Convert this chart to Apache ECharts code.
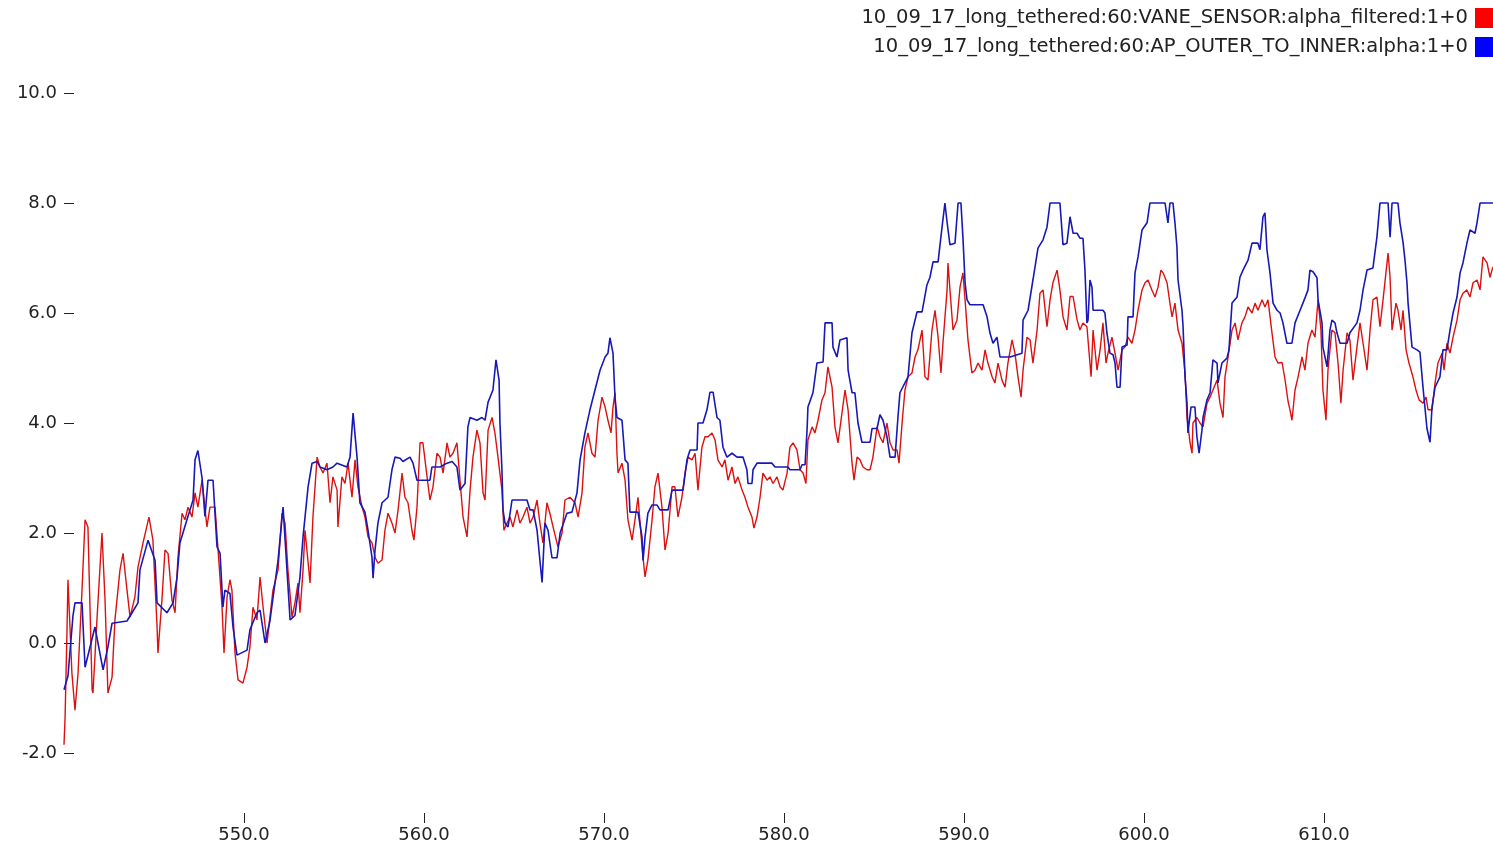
<!DOCTYPE html>
<html>
<head>
<meta charset="utf-8">
<script src="https://cdn.jsdelivr.net/npm/echarts@6/dist/echarts.min.js"></script>
<style>
html,body{margin:0;padding:0;background:#fff;}
#chart{width:1493px;height:847px;}
</style>
</head>
<body>
<div id="chart"></div>
<script>
const seriesNames = [
  "10_09_17_long_tethered:60:VANE_SENSOR:alpha_filtered:1+0",
  "10_09_17_long_tethered:60:AP_OUTER_TO_INNER:alpha:1+0"
];
const xTicks = [550, 560, 570, 580, 590, 600, 610];
const yTicks = [-2, 0, 2, 4, 6, 8, 10];

const redT = [540.00,540.06,540.17,540.22,540.44,540.61,540.78,541.00,541.17,541.33,541.56,541.61,541.83,542.11,542.28,542.44,542.67,542.83,543.11,543.28,543.50,543.67,543.94,544.11,544.39,544.72,544.94,545.17,545.22,545.44,545.61,545.78,546.00,546.17,546.33,546.56,546.72,546.89,547.11,547.28,547.44,547.67,547.94,548.11,548.39,548.56,548.78,548.89,549.06,549.22,549.33,549.50,549.67,549.94,550.17,550.33,550.50,550.72,550.89,551.06,551.28,551.44,551.61,551.89,552.11,552.28,552.44,552.67,552.83,553.00,553.11,553.28,553.39,553.67,553.83,554.06,554.22,554.39,554.61,554.78,554.94,555.17,555.22,555.44,555.61,555.78,556.00,556.17,556.33,556.56,556.72,556.89,557.11,557.28,557.44,557.67,557.83,558.00,558.22,558.39,558.56,558.78,558.94,559.11,559.33,559.44,559.61,559.78,559.94,560.17,560.33,560.50,560.72,560.89,561.06,561.28,561.44,561.61,561.83,562.00,562.17,562.39,562.56,562.72,562.94,563.11,563.28,563.39,563.56,563.78,563.94,564.11,564.33,564.44,564.61,564.78,564.94,565.17,565.33,565.50,565.72,565.89,566.06,566.28,566.44,566.61,566.83,567.00,567.17,567.44,567.67,567.83,568.11,568.39,568.56,568.78,568.94,569.11,569.33,569.50,569.67,569.89,570.06,570.22,570.39,570.50,570.61,570.72,570.78,571.00,571.17,571.33,571.56,571.72,571.89,572.11,572.28,572.44,572.67,572.83,573.00,573.22,573.39,573.56,573.78,573.94,574.11,574.33,574.50,574.67,574.89,575.06,575.22,575.44,575.61,575.78,576.00,576.17,576.33,576.56,576.72,576.89,577.11,577.28,577.44,577.67,577.83,578.00,578.22,578.33,578.50,578.67,578.83,579.06,579.22,579.39,579.61,579.78,579.94,580.17,580.33,580.50,580.72,580.89,581.06,581.22,581.33,581.56,581.72,581.89,582.11,582.28,582.44,582.67,582.83,583.00,583.22,583.39,583.56,583.78,583.89,584.06,584.22,584.39,584.61,584.78,584.94,585.17,585.33,585.50,585.72,585.89,586.06,586.28,586.39,586.56,586.72,586.89,587.11,587.28,587.44,587.67,587.83,588.00,588.22,588.39,588.56,588.72,588.83,589.06,589.11,589.22,589.39,589.61,589.78,589.94,590.06,590.22,590.44,590.61,590.78,591.00,591.17,591.33,591.56,591.72,591.89,592.11,592.28,592.44,592.67,592.83,593.00,593.17,593.28,593.50,593.67,593.83,594.06,594.22,594.39,594.61,594.78,594.94,595.17,595.33,595.50,595.72,595.89,596.06,596.28,596.44,596.61,596.83,596.89,597.06,597.17,597.39,597.56,597.72,597.89,598.00,598.22,598.39,598.56,598.78,598.94,599.11,599.33,599.50,599.67,599.89,600.06,600.22,600.44,600.61,600.78,600.94,601.06,601.28,601.44,601.56,601.72,601.89,602.11,602.28,602.39,602.56,602.67,602.72,602.94,603.11,603.28,603.50,603.67,603.83,604.06,604.22,604.39,604.50,604.67,604.89,605.06,605.22,605.44,605.61,605.78,606.00,606.17,606.33,606.56,606.72,606.89,607.11,607.28,607.44,607.67,607.83,608.00,608.11,608.22,608.39,608.56,608.78,608.94,609.11,609.33,609.50,609.67,609.83,609.94,610.11,610.22,610.44,610.61,610.78,610.94,611.06,611.28,611.44,611.61,611.83,612.00,612.17,612.39,612.56,612.72,612.94,613.11,613.28,613.44,613.56,613.67,613.78,614.00,614.11,614.28,614.39,614.56,614.72,614.94,615.11,615.28,615.50,615.67,615.78,616.00,616.17,616.33,616.56,616.67,616.83,617.00,617.17,617.39,617.56,617.72,617.94,618.11,618.28,618.50,618.67,618.83,619.06,619.22,619.39];
const redV = [-1.85,-1.35,0.29,1.15,-0.55,-1.22,-0.55,0.96,2.24,2.11,-0.85,-0.91,0.42,2.0,0.78,-0.91,-0.62,0.42,1.33,1.63,0.96,0.47,0.84,1.38,1.82,2.29,1.87,0.29,-0.18,0.78,1.69,1.63,0.78,0.55,1.56,2.36,2.24,2.47,2.29,2.73,2.47,2.96,2.11,2.47,2.47,1.69,0.65,-0.18,0.84,1.15,0.96,-0.18,-0.67,-0.73,-0.44,-0.07,0.65,0.42,1.2,0.65,0.0,0.47,0.96,1.33,2.36,2.18,1.33,0.47,0.73,1.09,0.55,1.33,2.05,1.09,2.29,3.38,3.2,3.09,3.27,2.55,3.02,2.78,2.11,3.02,2.9,3.27,2.65,3.33,2.84,2.47,2.29,1.93,1.82,1.56,1.45,1.51,2.05,2.36,2.18,2.0,2.42,3.09,2.65,2.55,2.05,1.87,2.47,3.64,3.64,3.02,2.6,2.84,3.45,3.38,3.09,3.64,3.38,3.45,3.64,2.96,2.29,1.93,2.78,3.38,3.87,3.64,2.73,2.6,3.87,4.1,3.82,3.38,2.78,2.05,2.18,2.29,2.11,2.42,2.18,2.29,2.47,2.18,2.29,2.6,2.18,1.82,2.55,2.35,2.11,1.75,2.0,2.6,2.65,2.55,2.29,2.73,3.56,3.82,3.45,3.38,4.05,4.47,4.29,4.05,3.82,4.29,4.55,3.45,3.09,3.27,2.96,2.24,1.87,2.24,2.65,1.75,1.2,1.51,2.24,2.84,3.09,2.47,1.69,2.0,2.84,2.84,2.29,2.65,3.09,3.38,3.33,3.45,2.78,3.56,3.75,3.75,3.82,3.69,3.33,3.2,3.33,2.96,3.2,2.9,3.02,2.78,2.65,2.47,2.29,2.09,2.29,2.65,3.09,2.96,3.02,2.9,3.02,2.84,2.78,3.09,3.56,3.64,3.51,3.15,3.09,2.9,3.69,3.93,3.82,4.05,4.42,4.55,5.02,4.65,3.93,3.64,4.18,4.6,4.24,3.27,2.96,3.38,3.33,3.2,3.15,3.15,3.38,3.93,3.75,3.64,4.0,3.64,3.51,3.51,3.27,4.0,4.6,4.84,4.91,5.2,5.33,5.69,4.84,4.78,5.69,6.05,5.56,4.91,5.45,6.42,6.91,6.42,5.69,5.87,6.47,6.73,6.24,5.51,4.91,4.96,5.09,4.96,5.33,5.09,4.84,4.73,5.09,4.78,4.65,5.09,5.51,5.27,4.84,4.47,4.96,5.56,5.51,5.09,5.69,6.36,6.42,5.75,6.24,6.55,6.78,6.42,5.93,5.69,6.3,6.3,5.88,5.69,5.82,5.75,5.51,4.84,5.69,4.96,5.33,5.82,5.09,5.27,5.56,5.27,4.96,5.33,5.38,5.56,5.45,5.69,6.05,6.42,6.55,6.6,6.42,6.29,6.47,6.78,6.73,6.55,6.18,5.93,6.18,5.69,5.45,4.91,4.1,3.64,3.45,4.0,4.1,4.0,3.93,4.36,4.47,4.6,4.78,4.36,4.1,4.84,5.2,5.69,5.82,5.51,5.82,5.93,6.11,6.0,6.18,6.05,6.24,6.11,6.24,5.64,5.2,5.09,5.1,4.8,4.4,4.24,4.05,4.6,4.84,5.2,4.96,5.45,5.69,5.56,6.24,5.69,4.6,4.05,4.96,5.69,5.64,5.09,4.36,4.96,5.64,5.51,4.78,5.38,5.82,5.45,4.96,5.69,6.24,6.29,5.75,6.24,6.73,7.09,6.65,5.69,6.18,6.05,5.69,6.05,5.33,5.09,4.84,4.6,4.42,4.36,4.47,4.24,4.24,4.73,5.09,5.27,4.96,5.45,5.27,5.56,5.87,6.24,6.36,6.42,6.29,6.55,6.6,6.42,7.02,6.91,6.65,6.84];

const blueT = [540.00,540.22,540.50,540.61,541.00,541.17,541.72,542.17,542.44,542.67,543.50,543.78,544.11,544.22,544.67,545.06,545.17,545.72,546.06,546.28,546.44,546.83,547.17,547.28,547.44,547.67,547.83,548.00,548.28,548.50,548.67,548.83,548.94,549.22,549.39,549.61,550.17,550.33,550.72,550.89,551.17,551.44,551.89,552.17,552.56,552.83,553.11,553.28,553.56,553.78,554.06,554.22,554.61,554.94,555.17,555.72,555.89,556.06,556.17,556.28,556.44,556.72,556.89,557.11,557.17,557.28,557.44,557.67,558.00,558.22,558.39,558.67,558.83,559.22,559.39,559.61,560.33,560.44,560.89,561.28,561.56,561.83,562.00,562.28,562.44,562.56,562.94,563.22,563.39,563.56,563.83,564.00,564.17,564.22,564.33,564.39,564.50,564.67,564.89,565.72,565.89,566.06,566.28,566.44,566.56,566.72,566.89,567.11,567.39,567.56,567.94,568.22,568.50,568.67,568.94,569.22,569.50,569.78,570.06,570.22,570.33,570.50,570.61,570.72,571.00,571.17,571.33,571.44,571.89,572.11,572.17,572.28,572.44,572.67,572.94,573.11,573.56,573.78,574.39,574.61,574.78,575.17,575.22,575.50,575.72,575.89,576.06,576.28,576.44,576.61,576.83,577.11,577.39,577.72,577.94,578.00,578.22,578.28,578.50,579.33,579.50,580.22,580.33,580.89,581.00,581.17,581.28,581.33,581.61,581.83,582.17,582.28,582.67,582.72,582.94,583.11,583.50,583.56,583.78,583.94,584.11,584.33,584.78,584.89,585.17,585.33,585.50,585.72,585.89,586.17,586.33,586.44,586.72,586.89,587.11,587.39,587.67,587.94,588.11,588.28,588.56,588.78,588.94,589.06,589.22,589.50,589.67,589.83,589.94,590.06,590.17,590.33,591.06,591.28,591.44,591.61,591.83,592.00,592.56,593.22,593.28,593.56,593.83,594.11,594.39,594.61,594.78,595.33,595.50,595.72,595.89,596.06,596.28,596.44,596.61,596.72,596.83,596.89,597.00,597.11,597.17,597.72,597.83,597.94,598.11,598.28,598.39,598.50,598.67,598.78,599.06,599.11,599.39,599.50,599.67,599.89,600.17,600.33,601.17,601.33,601.44,601.61,601.72,601.83,601.89,602.11,602.17,602.28,602.39,602.44,602.61,602.83,602.94,603.06,603.22,603.28,603.50,603.67,603.83,604.06,604.11,604.33,604.61,604.72,604.89,605.17,605.33,605.50,605.78,606.00,606.33,606.44,606.61,606.72,606.83,607.00,607.17,607.39,607.56,607.72,607.94,608.22,608.39,608.67,608.94,609.11,609.22,609.39,609.61,609.67,609.89,609.94,610.17,610.33,610.44,610.61,610.72,610.89,611.28,611.44,611.83,612.00,612.17,612.39,612.72,612.94,613.11,613.56,613.67,613.78,614.11,614.22,614.39,614.50,614.61,614.67,614.89,615.17,615.33,615.50,615.72,615.89,616.00,616.17,616.44,616.61,616.83,617.00,617.17,617.39,617.56,617.72,617.94,618.11,618.39,618.50,618.67,619.39];
const blueV = [-0.85,-0.6,0.5,0.73,0.73,-0.44,0.29,-0.49,-0.07,0.36,0.4,0.55,0.73,1.33,1.87,1.5,0.73,0.55,0.73,1.2,1.82,2.24,2.6,3.33,3.5,3.0,2.3,2.96,2.96,1.75,1.63,0.65,0.96,0.9,0.29,-0.22,-0.13,0.24,0.55,0.6,0.0,0.4,1.5,2.47,0.42,0.5,1.2,1.93,2.84,3.27,3.3,3.2,3.15,3.2,3.27,3.2,3.38,4.18,4.2,3.38,2.55,2.38,2.05,1.56,1.18,1.69,2.18,2.55,2.65,3.15,3.38,3.36,3.3,3.38,3.27,2.96,2.96,3.2,3.2,3.27,3.3,3.2,2.78,2.9,3.93,4.1,4.05,4.1,4.05,4.38,4.6,5.15,4.78,4.0,3.15,2.42,2.18,2.11,2.6,2.6,2.42,2.42,2.05,1.5,1.1,2.18,2.05,1.55,1.55,2.0,2.36,2.38,2.73,3.33,3.82,4.24,4.6,4.96,5.2,5.27,5.55,5.27,4.47,4.1,4.05,3.33,3.27,2.38,2.38,1.93,1.5,1.93,2.36,2.51,2.51,2.42,2.42,2.78,2.78,3.33,3.51,3.51,4.0,4.0,4.24,4.56,4.56,4.1,4.05,3.56,3.38,3.45,3.38,3.38,3.15,2.9,2.9,3.15,3.27,3.27,3.2,3.2,3.15,3.15,3.24,3.24,3.87,4.29,4.55,5.09,5.11,5.82,5.82,5.38,5.2,5.51,5.55,4.96,4.55,4.55,4.0,3.65,3.65,3.9,3.9,4.15,4.05,3.75,3.38,3.38,4.1,4.55,4.73,4.84,5.64,6.02,6.02,6.51,6.65,6.93,6.93,7.56,8.0,7.65,7.24,7.27,8.0,8.0,7.38,6.55,6.24,6.15,6.15,5.93,5.64,5.45,5.56,5.2,5.2,5.27,5.87,6.05,6.6,7.18,7.33,7.56,8.0,8.0,7.24,7.27,7.75,7.45,7.45,7.36,7.36,6.78,5.82,5.87,6.6,6.47,6.05,6.05,6.0,5.64,5.27,5.24,5.09,4.65,4.65,5.38,5.42,5.93,5.93,6.73,7.02,7.51,7.64,8.0,8.0,7.64,8.0,8.0,7.64,7.2,6.6,6.05,5.75,4.84,4.36,3.82,4.29,4.29,3.75,3.45,3.87,4.1,4.42,4.55,5.15,5.09,4.73,5.09,5.18,5.33,6.18,6.29,6.65,6.78,6.96,7.27,7.27,7.15,7.75,7.82,7.15,6.73,6.18,6.05,6.0,5.82,5.45,5.45,5.82,6.05,6.27,6.42,6.78,6.75,6.64,6.24,5.82,5.38,5.02,5.69,5.87,5.82,5.64,5.45,5.45,5.64,5.82,6.05,6.42,6.78,6.82,7.38,8.0,8.0,7.38,8.0,8.0,7.64,7.29,6.96,6.55,6.18,5.38,5.33,5.29,4.65,3.9,3.65,4.29,4.65,4.84,5.33,5.33,5.69,6.0,6.29,6.73,6.91,7.27,7.51,7.45,7.64,8.0,8.0];

const redData = redT.map((t, i) => [t, redV[i]]);
const blueData = blueT.map((t, i) => [t, blueV[i]]);

const chart = echarts.init(document.getElementById('chart'), null, {renderer: 'canvas'});
const textColor = '#222';
const fontFamily = 'DejaVu Sans';
chart.setOption({
  animation: false,
  backgroundColor: '#fff',
  grid: {left: 64, right: 0, top: 75, bottom: 24, containLabel: false},
  legend: {
    orient: 'vertical',
    right: 0,
    top: 8,
    padding: 0,
    align: 'right',
    icon: 'rect',
    itemWidth: 18,
    itemHeight: 20,
    itemGap: 9,
    textStyle: {fontSize: 19.5, color: textColor, fontFamily: fontFamily, padding: [0, 2, 0, 0]},
    data: [
      {name: seriesNames[0], itemStyle: {color: '#ff0000'}},
      {name: seriesNames[1], itemStyle: {color: '#0000ff'}}
    ]
  },
  xAxis: {
    type: 'value',
    min: 540,
    max: 540 + 1429 / 18,
    axisLine: {show: false, onZero: false},
    splitLine: {show: false},
    axisTick: {show: true, inside: true, length: 10, customValues: xTicks, lineStyle: {color: textColor, width: 1}},
    axisLabel: {customValues: xTicks, margin: 3, fontSize: 18, color: textColor, fontFamily: fontFamily,
      formatter: v => v.toFixed(1)}
  },
  yAxis: {
    type: 'value',
    min: -3.2727,
    max: 10.3273,
    axisLine: {show: false, onZero: false},
    splitLine: {show: false},
    axisTick: {show: true, inside: true, length: 10, customValues: yTicks, lineStyle: {color: textColor, width: 1}},
    axisLabel: {customValues: yTicks, margin: 7, fontSize: 18, color: textColor, fontFamily: fontFamily,
      formatter: v => v.toFixed(1)}
  },
  series: [
    {name: seriesNames[0], type: 'line', data: redData, showSymbol: false, symbol: 'none',
      lineStyle: {color: '#dd1010', width: 1.4}, itemStyle: {color: '#dd1010'}, z: 2},
    {name: seriesNames[1], type: 'line', data: blueData, showSymbol: false, symbol: 'none',
      lineStyle: {color: '#1818b8', width: 1.6}, itemStyle: {color: '#1818b8'}, z: 3}
  ]
});
</script>
</body>
</html>
